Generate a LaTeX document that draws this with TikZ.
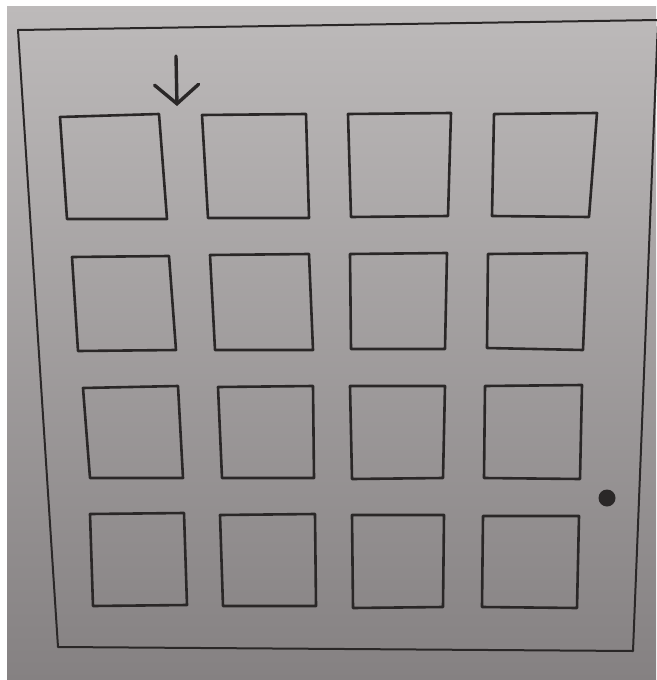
\documentclass[tikz,border=0pt]{standalone}
\usepackage{xcolor}
\usepackage{tikz}
\usetikzlibrary{arrows.meta}

\definecolor{carta}{HTML}{BDBABA}
\definecolor{cartascura}{HTML}{858182}
\definecolor{penna}{HTML}{2A2727}

\begin{document}
\begin{tikzpicture}[x=1pt, y=-1pt,
    bordo/.style={draw=penna, line width=2pt, line join=round},
    quadrato/.style={draw=penna, line width=2.6pt, line join=round}]

    \useasboundingbox (0,0) rectangle (656,680);

    % Foglio
    \fill[white] (0,0) rectangle (656,680);
    \shade[top color=carta, bottom color=cartascura] (7,6) rectangle (656,680);

    % Cornice
    \draw[bordo] (18,30) -- (658,20) -- (633,651) -- (58,647) -- cycle;

    % Riga 1
    \draw[quadrato] (60,117) -- (159,114) -- (167,219) -- (67,219) -- cycle;
    \draw[quadrato] (202,115) -- (306,114) -- (309,218) -- (208,218) -- cycle;
    \draw[quadrato] (348,114) -- (451,113) -- (448,216) -- (351,217) -- cycle;
    \draw[quadrato] (494,114) -- (597,113) -- (589,217) -- (492,216) -- cycle;

    % Riga 2
    \draw[quadrato] (72,257) -- (169,256) -- (176,350) -- (78,351) -- cycle;
    \draw[quadrato] (210,255) -- (309,254) -- (313,350) -- (215,350) -- cycle;
    \draw[quadrato] (350,254) -- (447,253) -- (445,349) -- (351,349) -- cycle;
    \draw[quadrato] (488,254) -- (587,253) -- (583,350) -- (487,348) -- cycle;

    % Riga 3
    \draw[quadrato] (83,388) -- (178,386) -- (183,478) -- (90,478) -- cycle;
    \draw[quadrato] (218,387) -- (313,386) -- (314,478) -- (222,478) -- cycle;
    \draw[quadrato] (350,386) -- (445,386) -- (443,478) -- (352,479) -- cycle;
    \draw[quadrato] (485,386) -- (582,385) -- (580,479) -- (484,478) -- cycle;

    % Riga 4
    \draw[quadrato] (90,514) -- (184,513) -- (187,605) -- (93,606) -- cycle;
    \draw[quadrato] (220,515) -- (315,514) -- (316,606) -- (223,606) -- cycle;
    \draw[quadrato] (352,515) -- (444,515) -- (443,607) -- (353,608) -- cycle;
    \draw[quadrato] (483,516) -- (579,516) -- (577,608) -- (482,607) -- cycle;

    % Freccia
    \coordinate (coda) at (176,56);
    \coordinate (punta) at (177,106);
    \draw[draw=penna, line width=3.4pt, line cap=round,
        -{Straight Barb[length=19pt, width=44pt, line cap=round]}] (coda) -- (punta);

    % Punto
    \fill[penna] (607,498) circle (8.5);
\end{tikzpicture}
\end{document}
